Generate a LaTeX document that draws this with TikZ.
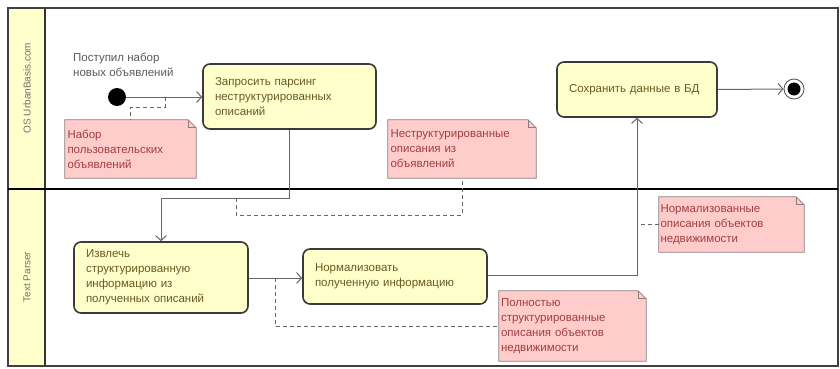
\documentclass[tikz,border=0pt]{standalone}
\usepackage{fontspec}
\setmainfont{Liberation Sans}
\usetikzlibrary{arrows.meta,backgrounds}
\definecolor{actfill}{HTML}{FFFFCC}
\definecolor{actdraw}{HTML}{3A3A3A}
\definecolor{acttext}{HTML}{6A5A20}
\definecolor{notefill}{HTML}{FFCCCC}
\definecolor{notedraw}{HTML}{8C7C7C}
\definecolor{notetext}{HTML}{A04040}
\definecolor{lanefill}{HTML}{FFFFCC}
\definecolor{lanetext}{HTML}{707070}
\definecolor{flowcol}{HTML}{666666}
\begin{document}
\begin{tikzpicture}[x=1pt,y=-1pt,
  font=\fontsize{11.5}{15}\selectfont,
  action/.style={draw=actdraw, line width=1.6pt, fill=actfill, rounded corners=7pt,
    text=acttext, align=left, inner sep=0pt},
  note/.style={draw=none, text=notetext, align=left, inner sep=0pt},
  notebox/.style={draw=notedraw, line width=0.8pt, fill=notefill},
  flow/.style={draw=flowcol, line width=1pt, -{Straight Barb[length=5pt,width=11pt]}},
  objflow/.style={draw=flowcol, line width=0.8pt, dash pattern=on 4pt off 3pt},
  lanelabel/.style={text=lanetext, font=\fontsize{10}{12}\selectfont, rotate=90}
]
\useasboundingbox (0,0) rectangle (840,369);
% lanes
\draw[fill=lanefill, line width=1.2pt, draw=black!80] (8,8) rectangle (45,366);
\draw[line width=2pt, draw=black!75] (8,8) rectangle (838,366);
\draw[line width=1.5pt, draw=black] (8,189) -- (838,189);
\node[lanelabel] (lane1) at (27,88) {OS UrbanBasis.com};
\node[lanelabel] (lane2) at (27,277) {Text Parser};

% actions
\node[action, minimum width=173pt, minimum height=65pt, text width=149pt] (act1) at (289.5,96.5)
  {Запросить парсинг\\неструктурированных\\описаний};
\node[action, minimum width=160pt, minimum height=55pt, text width=136pt] (act2) at (637,89.5)
  {Сохранить данные в БД};
\node[action, minimum width=174pt, minimum height=71pt, text width=150pt] (act3) at (161,277.5)
  {Извлечь\\структурированную\\информацию из\\полученных описаний};
\node[action, minimum width=184pt, minimum height=55pt, text width=160pt] (act4) at (395,276.5)
  {Нормализовать\\полученную информацию};

% initial / final
\node[circle, fill=black, minimum size=18pt, inner sep=0pt] (init) at (117,97) {};
\node[circle, draw=black!70, line width=0.8pt, minimum size=20pt, inner sep=0pt,
  path picture={\fill[black] (path picture bounding box.center) circle (6.5pt);}] (final) at (794,89) {};
\node[anchor=west, align=left, text=lanetext!80!black, inner sep=0pt] (startlbl) at (73,65)
  {Поступил набор\\новых объявлений};

% notes
\node[note, minimum width=131pt, minimum height=58pt, text width=126pt] (note1) at (130.5,149)
  {Набор\\пользовательских\\объявлений};
\node[note, minimum width=148pt, minimum height=58pt, text width=143pt] (note2) at (462,149)
  {Неструктурированные\\описания из\\объявлений};
\node[note, minimum width=145pt, minimum height=55pt, text width=142pt] (note3) at (731.5,224.5)
  {Нормализованные\\описания объектов\\недвижимости};
\node[note, minimum width=147pt, minimum height=70pt, text width=143pt] (note4) at (572.5,326)
  {Полностью\\структурированные\\описания объектов\\недвижимости};
\begin{scope}[on background layer]
\foreach \n in {note1,note2,note3,note4} {
  \draw[notebox] (\n.north west) -- ([xshift=-8pt]\n.north east) -- ([yshift=-8pt]\n.north east)
    -- (\n.south east) -- (\n.south west) -- cycle;
  \draw[notebox, fill=none] ([xshift=-8pt]\n.north east) |- ([yshift=-8pt]\n.north east);
}
\end{scope}

% control flows
\coordinate (j0) at (165,97);
\coordinate (j1) at (236,198);
\coordinate (j2) at (275,278);
\draw[flow] (init.east) -- (init.east -| act1.west);
\draw[flow] (act1.south) -- (act1.south |- j1) -| (act3.north);
\draw[flow] (act3.east |- j2) -- (j2 -| act4.west);
\draw[flow] (act4.east |- 0,275) -| (act2.south);
\draw[flow] (act2.east) -- (final.west);

% object flows
\draw[objflow] (j0) -- (165,107) -| (note1.north);
\draw[objflow] (j1) -- (236,215) -| (note2.south);
\draw[objflow] (j2) |- (note4.west);
\draw[objflow] (note3.west) -- (note3.west -| act2.south);
\end{tikzpicture}
\end{document}
